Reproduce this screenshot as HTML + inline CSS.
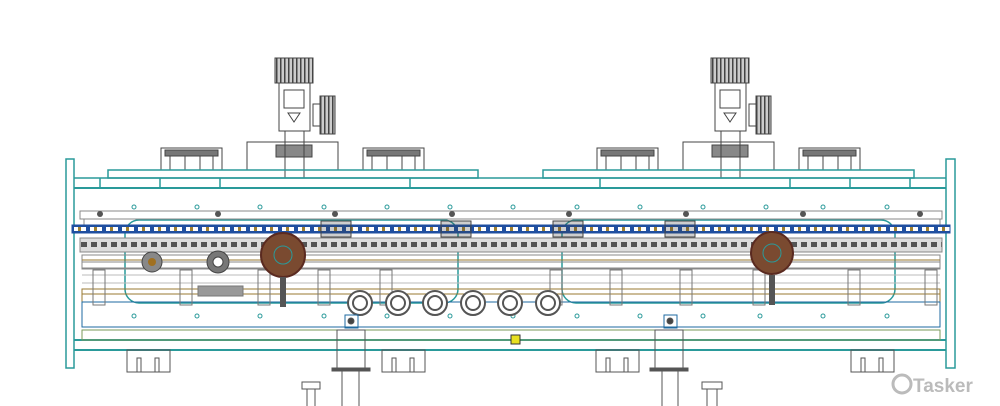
<!DOCTYPE html>
<html><head><meta charset="utf-8"><style>
html,body{margin:0;padding:0;background:#fff;width:1000px;height:406px;overflow:hidden}
svg{display:block}
</style></head><body>
<svg width="1000" height="406" viewBox="0 0 1000 406" xmlns="http://www.w3.org/2000/svg">
<defs>
<pattern id="chain" x="72" y="225" width="16" height="8" patternUnits="userSpaceOnUse">
<rect width="16" height="8" fill="#1f4fa0"/><rect x="2" y="2" width="12" height="4" fill="#fff"/><rect x="6" y="2" width="3" height="4" fill="#a08030"/>
</pattern>
<pattern id="teeth" x="80" y="240" width="10" height="10" patternUnits="userSpaceOnUse">
<rect width="10" height="10" fill="#ddd"/><rect x="1" y="2" width="6" height="5" fill="#555"/>
</pattern>
<pattern id="stripes" x="0" y="0" width="4" height="4" patternUnits="userSpaceOnUse">
<rect width="4" height="4" fill="#ccc"/><rect width="1.5" height="4" fill="#444"/>
</pattern>
</defs>
<g fill="none" stroke-width="1">
<g stroke="#444">
<rect x="275" y="58" width="38" height="25" fill="url(#stripes)"/>
<rect x="279" y="83" width="31" height="48"/>
<rect x="284" y="90" width="20" height="18"/>
<path d="M288 113 L300 113 L294 122 Z"/>
<rect x="320" y="96" width="15" height="38" fill="url(#stripes)"/>
<rect x="313" y="104" width="8" height="22"/>
<rect x="247" y="142" width="91" height="28"/>
<rect x="276" y="145" width="36" height="12" fill="#888"/>
<line x1="285" y1="131" x2="285" y2="178"/><line x1="304" y1="131" x2="304" y2="178"/>
<rect x="161" y="148" width="61" height="22"/><rect x="165" y="150" width="53" height="6" fill="#777"/>
<path d="M170 156 V170 M185 156 V170 M200 156 V170 M213 156 V170"/>
<rect x="363" y="148" width="61" height="22"/><rect x="367" y="150" width="53" height="6" fill="#777"/>
<path d="M372 156 V170 M387 156 V170 M402 156 V170 M415 156 V170"/>
<rect x="711" y="58" width="38" height="25" fill="url(#stripes)"/>
<rect x="715" y="83" width="31" height="48"/>
<rect x="720" y="90" width="20" height="18"/>
<path d="M724 113 L736 113 L730 122 Z"/>
<rect x="756" y="96" width="15" height="38" fill="url(#stripes)"/>
<rect x="749" y="104" width="8" height="22"/>
<rect x="683" y="142" width="91" height="28"/>
<rect x="712" y="145" width="36" height="12" fill="#888"/>
<line x1="721" y1="131" x2="721" y2="178"/><line x1="740" y1="131" x2="740" y2="178"/>
<rect x="597" y="148" width="61" height="22"/><rect x="601" y="150" width="53" height="6" fill="#777"/>
<path d="M606 156 V170 M621 156 V170 M636 156 V170 M649 156 V170"/>
<rect x="799" y="148" width="61" height="22"/><rect x="803" y="150" width="53" height="6" fill="#777"/>
<path d="M808 156 V170 M823 156 V170 M838 156 V170 M851 156 V170"/>
</g>
<g stroke="#2a9a9a" stroke-width="1.5">
<rect x="108" y="170" width="370" height="8"/>
<rect x="543" y="170" width="371" height="8"/>
<line x1="74" y1="178" x2="946" y2="178"/>
<line x1="74" y1="188" x2="946" y2="188" stroke-width="2"/>
<rect x="66" y="159" width="8" height="209"/>
<rect x="946" y="159" width="9" height="209"/>
<line x1="74" y1="340" x2="946" y2="340" stroke-width="2"/>
<line x1="74" y1="350" x2="946" y2="350" stroke-width="2"/>
<rect x="125" y="220" width="333" height="83" rx="14"/>
<rect x="562" y="220" width="333" height="83" rx="14"/>
<path d="M100 178 V188 M160 178 V188 M220 178 V188 M410 178 V188 M600 178 V188 M790 178 V188 M850 178 V188 M910 178 V188"/>
</g>
<g stroke="#2a9a9a">
<circle cx="134" cy="207" r="2"/><circle cx="197" cy="207" r="2"/><circle cx="260" cy="207" r="2"/><circle cx="324" cy="207" r="2"/><circle cx="387" cy="207" r="2"/><circle cx="450" cy="207" r="2"/><circle cx="513" cy="207" r="2"/><circle cx="577" cy="207" r="2"/><circle cx="640" cy="207" r="2"/><circle cx="703" cy="207" r="2"/><circle cx="766" cy="207" r="2"/><circle cx="823" cy="207" r="2"/><circle cx="887" cy="207" r="2"/>
<circle cx="134" cy="316" r="2"/><circle cx="197" cy="316" r="2"/><circle cx="260" cy="316" r="2"/><circle cx="324" cy="316" r="2"/><circle cx="387" cy="316" r="2"/><circle cx="450" cy="316" r="2"/><circle cx="513" cy="316" r="2"/><circle cx="577" cy="316" r="2"/><circle cx="640" cy="316" r="2"/><circle cx="703" cy="316" r="2"/><circle cx="760" cy="316" r="2"/><circle cx="823" cy="316" r="2"/><circle cx="887" cy="316" r="2"/>
</g>
<g stroke="#888">
<rect x="80" y="211" width="862" height="8"/>
<rect x="84" y="219" width="856" height="6"/>
<rect x="80" y="238" width="862" height="14" fill="url(#teeth)"/>
<rect x="82" y="255" width="858" height="14"/>
<rect x="82" y="262" width="858" height="6"/>
<line x1="82" y1="275" x2="940" y2="275" stroke="#bbb"/>
<line x1="82" y1="283" x2="940" y2="283" stroke="#bbb"/>
</g>
<rect x="72" y="225" width="878" height="8" fill="url(#chain)" stroke="#1f4fa0"/>
<g stroke="#9a7a30">
<line x1="82" y1="260" x2="940" y2="260"/>
<rect x="82" y="289" width="858" height="13"/>
<line x1="82" y1="294" x2="940" y2="294"/>
</g>
<rect x="82" y="302" width="858" height="25" stroke="#1e6aa0"/>
<rect x="82" y="330" width="858" height="10" stroke="#7a9a5a"/>
<g stroke="#777">
<rect x="93" y="270" width="12" height="35"/><rect x="180" y="270" width="12" height="35"/><rect x="258" y="270" width="12" height="35"/><rect x="318" y="270" width="12" height="35"/><rect x="380" y="270" width="12" height="35"/><rect x="550" y="270" width="12" height="35"/><rect x="610" y="270" width="12" height="35"/><rect x="680" y="270" width="12" height="35"/><rect x="753" y="270" width="12" height="35"/><rect x="848" y="270" width="12" height="35"/><rect x="925" y="270" width="12" height="35"/>
<rect x="198" y="286" width="45" height="10" fill="#999"/>
</g>
<g fill="#555" stroke="none">
<circle cx="100" cy="214" r="3"/><circle cx="218" cy="214" r="3"/><circle cx="335" cy="214" r="3"/><circle cx="452" cy="214" r="3"/><circle cx="569" cy="214" r="3"/><circle cx="686" cy="214" r="3"/><circle cx="803" cy="214" r="3"/><circle cx="920" cy="214" r="3"/>
</g>
<g stroke="#444" fill="rgba(60,60,60,0.25)">
<rect x="321" y="221" width="30" height="16"/><rect x="441" y="221" width="30" height="16"/><rect x="553" y="221" width="30" height="16"/><rect x="665" y="221" width="30" height="16"/>
</g>
<g>
<circle cx="283" cy="255" r="22" fill="#7a4a30" stroke="#5a2a20" stroke-width="2"/>
<circle cx="283" cy="255" r="9" stroke="#2a9a9a"/>
<circle cx="772" cy="253" r="21" fill="#7a4a30" stroke="#5a2a20" stroke-width="2"/>
<circle cx="772" cy="253" r="9" stroke="#2a9a9a"/>
<circle cx="152" cy="262" r="10" fill="#888" stroke="#444"/>
<circle cx="152" cy="262" r="4" fill="#a07020"/>
<circle cx="218" cy="262" r="11" fill="#777" stroke="#444"/>
<circle cx="218" cy="262" r="5" fill="#fff" stroke="#444"/>
<rect x="280" y="277" width="6" height="30" fill="#555"/>
<rect x="769" y="275" width="6" height="30" fill="#555"/>
</g>
<g stroke="#555" stroke-width="2">
<circle cx="360" cy="303" r="12" fill="#fff"/><circle cx="360" cy="303" r="7"/>
<circle cx="398" cy="303" r="12" fill="#fff"/><circle cx="398" cy="303" r="7"/>
<circle cx="435" cy="303" r="12" fill="#fff"/><circle cx="435" cy="303" r="7"/>
<circle cx="473" cy="303" r="12" fill="#fff"/><circle cx="473" cy="303" r="7"/>
<circle cx="510" cy="303" r="12" fill="#fff"/><circle cx="510" cy="303" r="7"/>
<circle cx="548" cy="303" r="12" fill="#fff"/><circle cx="548" cy="303" r="7"/>
</g>
<g stroke="#555">
<rect x="345" y="315" width="13" height="13" stroke="#1e6aa0"/><circle cx="351" cy="321" r="3" fill="#444"/>
<rect x="664" y="315" width="13" height="13" stroke="#1e6aa0"/><circle cx="670" cy="321" r="3" fill="#444"/>
<rect x="337" y="330" width="28" height="38"/><rect x="332" y="368" width="38" height="3" fill="#555"/>
<line x1="342" y1="371" x2="342" y2="406"/><line x1="359" y1="371" x2="359" y2="406"/>
<rect x="655" y="330" width="28" height="38"/><rect x="650" y="368" width="38" height="3" fill="#555"/>
<line x1="662" y1="371" x2="662" y2="406"/><line x1="678" y1="371" x2="678" y2="406"/>
<rect x="127" y="350" width="43" height="22"/><path d="M137 372 V358 H141 V372 M155 372 V358 H159 V372"/>
<rect x="382" y="350" width="43" height="22"/><path d="M392 372 V358 H396 V372 M410 372 V358 H414 V372"/>
<rect x="596" y="350" width="43" height="22"/><path d="M606 372 V358 H610 V372 M624 372 V358 H628 V372"/>
<rect x="851" y="350" width="43" height="22"/><path d="M861 372 V358 H865 V372 M879 372 V358 H883 V372"/>
<path d="M302 382 H320 V389 H302 Z M307 389 V406 M315 389 V406"/>
<path d="M702 382 H722 V389 H702 Z M707 389 V406 M717 389 V406"/>
</g>
<rect x="511" y="335" width="9" height="9" fill="#e8e020" stroke="#333"/>
</g>
<circle cx="902" cy="384" r="9" fill="none" stroke="#bbb" stroke-width="3"/>
<text x="913" y="392" font-family="Liberation Sans, sans-serif" font-weight="bold" font-size="19" fill="#bbb">Tasker</text>
</svg>
</body></html>
